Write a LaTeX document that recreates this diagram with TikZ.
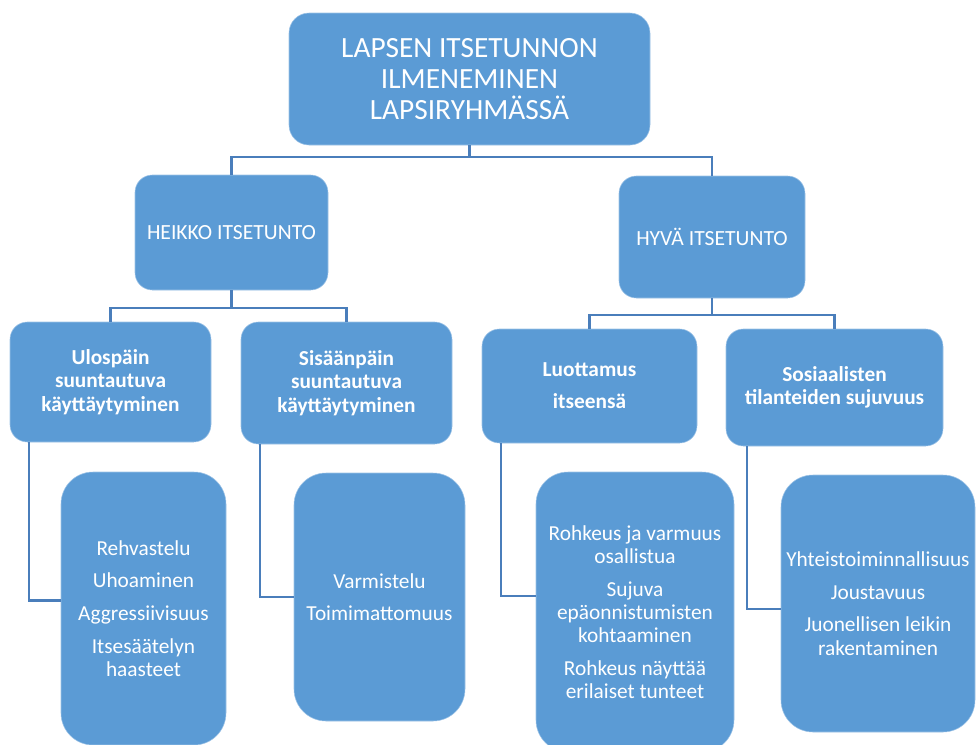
\documentclass[tikz,border=0pt]{standalone}
\usepackage{fontspec}
\setmainfont{Carlito}
\usetikzlibrary{positioning}
\definecolor{boxblue}{HTML}{5B9BD5}
\definecolor{edgeblue}{HTML}{9DC3E6}
\definecolor{lineblue}{HTML}{4A7EBB}
\tikzset{
  box/.style={rectangle, fill=boxblue, draw=edgeblue, line width=0.4pt,
    text=white, align=center, inner sep=0pt},
  conn/.style={draw=lineblue, line width=1.7pt},
  toptext/.style={font=\fontsize{22}{23.5}\selectfont},
  midtext/.style={font=\fontsize{16.2}{18}\selectfont},
  subtext/.style={font=\bfseries\fontsize{16}{17.6}\selectfont},
  leaftext/.style={font=\fontsize{16}{17.5}\selectfont},
}
\begin{document}
\begin{tikzpicture}[x=0.75pt, y=-0.75pt]
\useasboundingbox (0,0) rectangle (976,744);

% root
\node[box, toptext, rounded corners=15pt, minimum width=361*0.75pt, minimum height=132*0.75pt]
  (root) at (469.5,79) {LAPSEN ITSETUNNON\\ILMENEMINEN\\LAPSIRYHMÄSSÄ};

% second level
\node[box, midtext, rounded corners=13pt, minimum width=193*0.75pt, minimum height=115*0.75pt]
  (weak) at (231.5,232.5) {HEIKKO ITSETUNTO};
\node[box, midtext, rounded corners=13pt, minimum width=186*0.75pt, minimum height=122*0.75pt]
  (good) at (712,237) {HYVÄ ITSETUNTO};

% third level
\node[box, subtext, rounded corners=13pt, minimum width=201*0.75pt, minimum height=120*0.75pt]
  (outw) at (110.5,382) {Ulospäin\\suuntautuva\\käyttäytyminen};
\node[box, subtext, rounded corners=13pt, minimum width=211*0.75pt, minimum height=122*0.75pt]
  (inw) at (346.5,383) {Sisäänpäin\\suuntautuva\\käyttäytyminen};
\node[box, subtext, rounded corners=13pt, minimum width=215*0.75pt, minimum height=114*0.75pt]
  (trust) at (589.5,386) {Luottamus\\[6.5pt]itseensä};
\node[box, subtext, rounded corners=13pt, minimum width=217*0.75pt, minimum height=117*0.75pt]
  (social) at (834.5,387.5) {Sosiaalisten\\tilanteiden sujuvuus};

% leaves
\node[box, leaftext, rounded corners=24pt, minimum width=165*0.75pt, minimum height=273*0.75pt]
  (outl) at (143.5,608.5) {Rehvastelu\\[7pt]Uhoaminen\\[7pt]Aggressiivisuus\\[7pt]Itsesäätelyn\\haasteet};
\node[box, leaftext, rounded corners=24pt, minimum width=171*0.75pt, minimum height=248*0.75pt]
  (inl) at (379.5,597) {Varmistelu\\[7pt]Toimimattomuus};
\node[box, leaftext, rounded corners=24pt, minimum width=198*0.75pt, minimum height=280*0.75pt]
  (trustl) at (635,612) {Rohkeus ja varmuus\\osallistua\\[7pt]Sujuva\\epäonnistumisten\\kohtaaminen\\[7pt]Rohkeus näyttää\\erilaiset tunteet};
\node[box, leaftext, rounded corners=24pt, minimum width=194*0.75pt, minimum height=257*0.75pt]
  (sociall) at (878,603.5) {Yhteistoiminnallisuus\\[7pt]Joustavuus\\[7pt]Juonellisen leikin\\rakentaminen};

% connectors: root to second level
\draw[conn] (root.south) -- ++(0,12) coordinate (rj);
\draw[conn] (weak.north) |- (rj) -| (good.north);

% second to third level
\draw[conn] (weak.south) -- ++(0,18) coordinate (wj);
\draw[conn] (outw.north) |- (wj) -| (inw.north);
\draw[conn] (good.south) -- ++(0,17) coordinate (gj);
\draw[conn] (trust.north) |- (gj) -| (social.north);

% third level to leaves
\draw[conn] ([xshift=19*0.75pt]outw.south west) |- ([yshift=6pt]outl.west);
\draw[conn] ([xshift=19*0.75pt]inw.south west) |- ([yshift=0pt]inl.west);
\draw[conn] ([xshift=19*0.75pt]trust.south west) |- ([yshift=12pt]trustl.west);
\draw[conn] ([xshift=21*0.75pt]social.south west) |- ([yshift=-4pt]sociall.west);
\end{tikzpicture}
\end{document}
